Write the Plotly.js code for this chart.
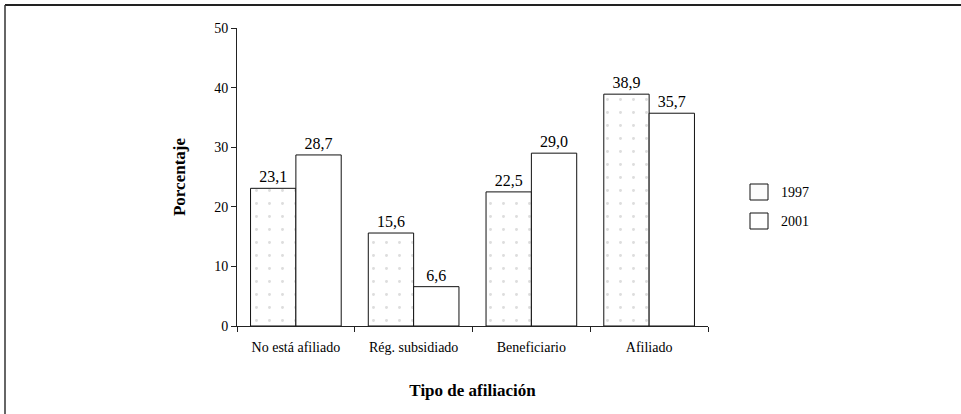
<!DOCTYPE html>
<html>
<head>
<meta charset="utf-8">
<script src="https://cdn.plot.ly/plotly-3.0.1.min.js"></script>
<style>html,body{margin:0;padding:0;background:#fff;}#chart{width:961px;height:414px;}</style>
</head>
<body>
<div id="chart"></div>
<script>
const categories = ["No está afiliado", "Rég. subsidiado", "Beneficiario", "Afiliado"];
const values1997 = [23.1, 15.6, 22.5, 38.9];
const values2001 = [28.7, 6.6, 29.0, 35.7];
const seriesNames = ["1997", "2001"];
const yTicks = [0, 10, 20, 30, 40, 50];

const serif = "'Liberation Serif', 'Times New Roman', serif";

const traces = [
  {
    type: "bar", name: seriesNames[0], x: categories, y: values1997,
    marker: {color: "#ffffff", line: {color: "#111", width: 1},
             pattern: {shape: ".", fgcolor: "#dddddd", bgcolor: "#ffffff", size: 13, solidity: 0.04}},
    texttemplate: "%{y:.1f}", textposition: "outside", cliponaxis: false,
    textfont: {family: serif, size: 16, color: "#000"}, showlegend: false
  },
  {
    type: "bar", name: seriesNames[1], x: categories, y: values2001,
    marker: {color: "#ffffff", line: {color: "#111", width: 1}},
    texttemplate: "%{y:.1f}", textposition: "outside", cliponaxis: false,
    textfont: {family: serif, size: 16, color: "#000"}, showlegend: false
  }
];

const W = 961, H = 414;
const ML = 237, MR = 253, MT = 28, MB = 88;
const PW = W - ML - MR, PH = H - MT - MB;
const px = (x) => (x - ML) / PW, py = (y) => (H - MB - y) / PH;
const legendX = 750, legendY = [184, 213];

const shapes = [
  {type: "line", xref: "paper", yref: "paper", x0: px(5), x1: px(961), y0: py(5), y1: py(5), line: {color: "#222", width: 2}},
  {type: "line", xref: "paper", yref: "paper", x0: px(5), x1: px(5), y0: py(5), y1: py(414), line: {color: "#333", width: 1.5}}
];
const annotations = [];
seriesNames.forEach((n, i) => {
  shapes.push({type: "rect", xref: "paper", yref: "paper",
    x0: px(legendX), x1: px(legendX + 18), y0: py(legendY[i]), y1: py(legendY[i] + 16),
    line: {color: "#111", width: 1}, fillcolor: i === 0 ? "#fbfbfb" : "#ffffff"});
  annotations.push({xref: "paper", yref: "paper", x: px(legendX + 29), y: py(legendY[i] + 8),
    xanchor: "left", yanchor: "middle", showarrow: false, text: n,
    font: {family: serif, size: 14, color: "#000"}});
});

const layout = {
  width: W, height: H,
  margin: {l: ML, r: MR, t: MT, b: MB},
  paper_bgcolor: "#fff", plot_bgcolor: "#fff",
  separators: ",.",
  barmode: "group", bargap: 0.23, bargroupgap: 0,
  showlegend: false,
  font: {family: serif, color: "#000"},
  xaxis: {
    showline: true, linecolor: "#222", linewidth: 1,
    ticks: "outside", tickson: "boundaries", ticklen: 5, tickcolor: "#222",
    ticklabelstandoff: 8,
    tickfont: {family: serif, size: 14, color: "#000"},
    showgrid: false, zeroline: false,
    title: {text: "<b>Tipo de afiliación</b>", font: {family: serif, size: 17, color: "#000"}, standoff: 30}
  },
  yaxis: {
    range: [0, 50], tickvals: yTicks, ticktext: yTicks.map(String),
    showline: true, linecolor: "#222", linewidth: 1,
    ticks: "outside", ticklen: 5, tickcolor: "#222",
    tickfont: {family: serif, size: 14, color: "#000"},
    showgrid: false, zeroline: false,
    title: {text: "<b>Porcentaje</b>", font: {family: serif, size: 17, color: "#000"}, standoff: 24}
  },
  shapes: shapes,
  annotations: annotations
};

Plotly.newPlot("chart", traces, layout, {displayModeBar: false, staticPlot: true});
</script>
</body>
</html>
